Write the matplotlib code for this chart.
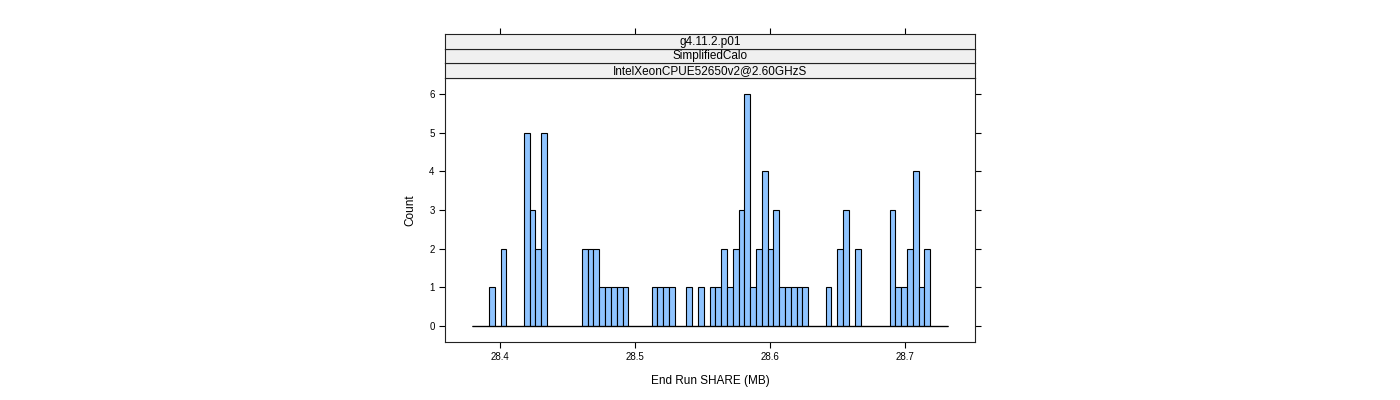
import numpy as np
import matplotlib.pyplot as plt

plt.rcParams['font.family'] = ['Liberation Sans', 'DejaVu Sans']

# histogram breaks (MB) and counts per bin
bin_start = 28.3790
bin_width = 0.0043
counts = [0, 0, 0, 1, 0, 2, 0, 0, 0, 5, 3, 2, 5, 0, 0, 0, 0, 0, 0, 2,
          2, 2, 1, 1, 1, 1, 1, 0, 0, 0, 0, 1, 1, 1, 1, 0, 0, 1, 0, 1,
          0, 1, 1, 2, 1, 2, 3, 6, 1, 2, 4, 2, 3, 1, 1, 1, 1, 1, 0, 0,
          0, 1, 0, 2, 3, 0, 2, 0, 0, 0, 0, 0, 3, 1, 1, 2, 4, 1, 2, 0,
          0, 0]
strip_labels = ['g4.11.2.p01', 'SimplifiedCalo', 'IntelXeonCPUE52650v2@2.60GHzS']
x_ticks = [28.4, 28.5, 28.6, 28.7]
y_ticks = [0, 1, 2, 3, 4, 5, 6]

xlim = (28.3593, 28.7519)
ylim = (-0.41, 6.41)

W, H = 1400, 400
fig = plt.figure(figsize=(14, 4), dpi=100)

# main panel
px0, py0, pw, ph = 445, 78, 530, 264
ax = fig.add_axes([px0 / W, 1 - (py0 + ph) / H, pw / W, ph / H])

edges = bin_start + bin_width * np.arange(len(counts) + 1)
ax.bar(edges[:-1], counts, width=bin_width, align='edge',
       color='#8fc4ff', edgecolor='black', linewidth=0.8, zorder=2)
ax.hlines(0, edges[0], edges[-1], color='black', linewidth=0.9, zorder=3)

ax.set_xlim(*xlim)
ax.set_ylim(*ylim)
ax.set_xticks(x_ticks)
ax.set_xticklabels([str(t) for t in x_ticks])
ax.set_yticks(y_ticks)
ax.tick_params(direction='out', length=4, width=0.8, labelsize=7,
               top=False, right=True, labelright=False, pad=3.5)
for s in ax.spines.values():
    s.set_linewidth(0.8)
    s.set_color('#222222')
ax.set_xlabel('End Run SHARE (MB)', fontsize=8.5, labelpad=9)
ax.set_ylabel('Count', fontsize=8.5, labelpad=9)

# strips on top of the panel
sh = 14.57
for i, lab in enumerate(reversed(strip_labels)):
    sy = py0 - sh * (i + 1)
    sax = fig.add_axes([px0 / W, 1 - (sy + sh) / H, pw / W, sh / H])
    sax.set_facecolor('#f0f0f0')
    sax.set_xlim(*xlim)
    sax.set_yticks([])
    for s in sax.spines.values():
        s.set_linewidth(0.8)
        s.set_color('#222222')
    sax.text(0.5, 0.5, lab, transform=sax.transAxes, ha='center',
             va='center', fontsize=8.5)
    if i == len(strip_labels) - 1:
        sax.set_xticks(x_ticks)
        sax.tick_params(axis='x', direction='out', length=4, width=0.8,
                        bottom=False, labelbottom=False, top=True,
                        labeltop=False)
    else:
        sax.set_xticks([])

fig.savefig('out.png', dpi=100)
